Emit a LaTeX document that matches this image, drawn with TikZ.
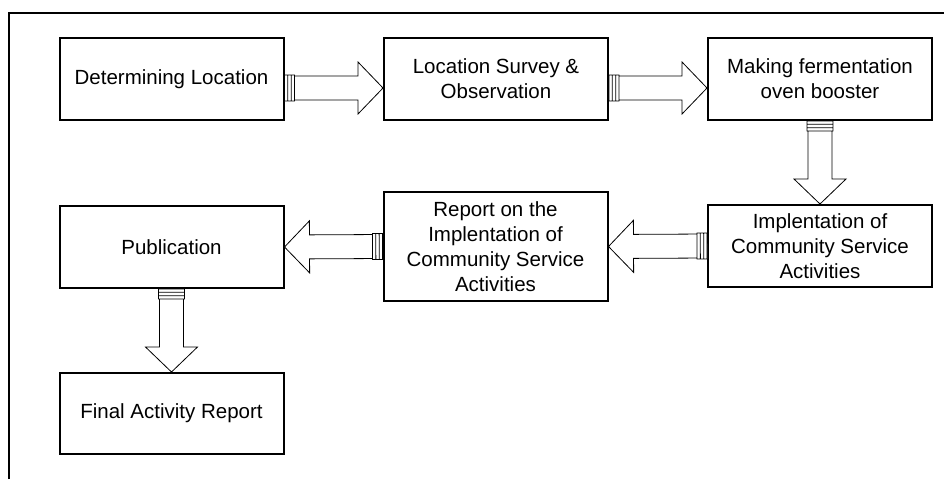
\documentclass[tikz,border=0pt]{standalone}
\usepackage{fontspec}
\setmainfont{Liberation Sans}
\usetikzlibrary{calc}

% points along an arrow, measured from its start or from its end
\newcommand\FromS[3]{($(\tikztostart)!#1!(\tikztotarget)!#2!#3:(\tikztotarget)$)}
\newcommand\FromT[3]{($(\tikztotarget)!#1!(\tikztostart)!#2!#3:(\tikztostart)$)}

\tikzset{
	stage/.style={draw, line width=2pt, minimum width=224pt, minimum height=82pt,
		align=center, inner sep=2pt, font=\fontsize{20.5}{25}\selectfont},
	blockarrow/.style={draw, fill=white, line width=0.8pt, to path={
		\FromS{10pt}{12pt}{90} -- \FromT{25pt}{12pt}{-90} -- \FromT{25pt}{26pt}{-90}
		-- (\tikztotarget) -- \FromT{25pt}{26pt}{90} -- \FromT{25pt}{12pt}{90}
		-- \FromS{10pt}{12pt}{-90} -- cycle
		\FromS{0pt}{13pt}{90} -- \FromS{10pt}{13pt}{90} -- \FromS{10pt}{13pt}{-90}
		-- \FromS{0pt}{13pt}{-90} -- cycle
		\FromS{3.3pt}{13pt}{90} -- \FromS{3.3pt}{13pt}{-90}
		\FromS{6.7pt}{13pt}{90} -- \FromS{6.7pt}{13pt}{-90}
	}}
}

\begin{document}
\begin{tikzpicture}[y=-1pt,x=1pt]
	\useasboundingbox (0,0) rectangle (944,479);
	\draw [line width=2pt] (9,479) -- (9,13) -- (944,13);

	\node [stage] (locate) at (171.5,79) {Determining Location};
	\node [stage] (survey) at (496,79) {Location Survey \&\\Observation};
	\node [stage] (booster) at (820,79) {Making fermentation\\oven booster};
	\node [stage] (service) at (820,246) {Implentation of\\Community Service\\Activities};
	\node [stage, minimum height=109pt] (report) at (495.5,246.5) {Report on the\\Implentation of\\Community Service\\Activities};
	\node [stage] (publish) at (171.5,247) {Publication};
	\node [stage, minimum height=81pt] (final) at (171.5,413.5) {Final Activity Report};

	\draw [blockarrow] ([yshift=-9pt]locate.east) to ([yshift=-9pt]survey.west);
	\draw [blockarrow] ([yshift=-9pt]survey.east) to ([yshift=-9pt]booster.west);
	\draw [blockarrow] (booster.south) to (service.north);
	\draw [blockarrow] (service.west) to (report.east);
	\draw [blockarrow] (report.west) to (publish.east);
	\draw [blockarrow] (publish.south) to (final.north);
\end{tikzpicture}
\end{document}
